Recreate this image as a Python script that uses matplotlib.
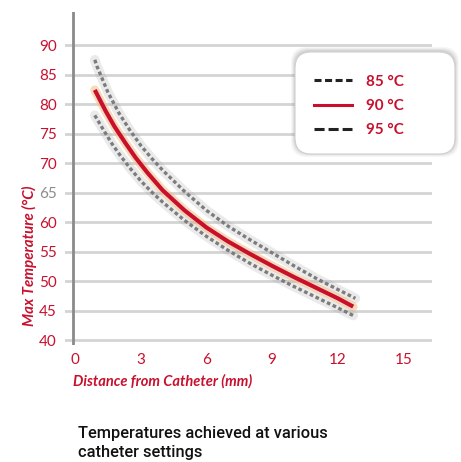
import matplotlib
matplotlib.use('Agg')
import matplotlib.pyplot as plt
from matplotlib.lines import Line2D
from matplotlib.patches import FancyBboxPatch

# colour definitions
red = '#c8102e'
grey_tick = '#8c8c8c'
grid_grey = '#d4d4d4'

# data
dist_90 = [0.9, 1.4, 1.8, 2.3, 2.75, 3.3, 4, 5, 6, 7, 8, 9, 10, 11, 12, 12.7]
temp_90 = [82.4, 78.8, 76.2, 73.4, 71.0, 68.4, 65.4, 62.0, 59.1, 56.7, 54.6, 52.6, 50.7, 48.9, 47.1, 45.7]

dist_95 = [0.9, 1.0, 1.5, 2, 2.5, 3, 3.5, 4, 5, 6, 7, 8, 9, 10, 11, 12, 12.8]
temp_95 = [87.5, 86.4, 82.0, 78.5, 75.6, 73.0, 70.8, 68.8, 65.2, 62.0, 59.3, 57.0, 54.8, 52.6, 50.5, 48.6, 47.1]

dist_85 = [0.9, 1.3, 1.7, 2.1, 2.5, 3, 3.5, 4, 5, 6, 7, 8, 9, 10, 11, 12, 12.7]
temp_85 = [78.1, 75.6, 73.2, 71.1, 69.2, 67.0, 65.1, 63.4, 60.3, 57.6, 55.2, 53.0, 51.0, 49.1, 47.3, 45.5, 44.2]

x_ticks = [0, 3, 6, 9, 12, 15]
y_ticks = [40, 45, 50, 55, 60, 65, 70, 75, 80, 85, 90]
legend_labels = ['85 °C', '90 °C', '95 °C']

W, H = 461, 462
fig = plt.figure(figsize=(W / 100, H / 100), dpi=100)
ax = fig.add_axes([65 / W, 1 - 345 / H, (432 - 65) / W, (345 - 12) / H])
ax.set_xlim(-0.46, 16.3)
ax.set_ylim(39.2, 95.6)

for s in ax.spines.values():
    s.set_visible(False)

# grid lines
for y in y_ticks:
    ax.axhline(y, color=grid_grey, lw=2, zorder=0)
ax.axvline(-0.1, color='#8a8a8a', lw=2, zorder=1)

# grey curves with soft halo
for d, t in [(dist_95, temp_95), (dist_85, temp_85)]:
    ax.plot(d, t, color='#a0a0a0', lw=7, alpha=0.22, solid_capstyle='round', zorder=2)
    ax.plot(d, t, color='#7c7c7c', lw=2.4, dashes=(1.1, 0.8), zorder=3)

# red curve with orange halo
ax.plot(dist_90, temp_90, color='#f3b877', lw=6.5, alpha=0.5, solid_capstyle='round', zorder=4)
ax.plot(dist_90, temp_90, color=red, lw=3, solid_capstyle='butt', zorder=5)

ax.set_xticks(x_ticks)
ax.set_yticks(y_ticks)
ax.tick_params(length=0, labelsize=11, labelcolor=red)
ax.tick_params(axis='y', pad=6)
ax.tick_params(axis='x', pad=6)
for lab in ax.get_xticklabels() + ax.get_yticklabels():
    lab.set_fontfamily('Lato')
ax.get_yticklabels()[y_ticks.index(65)].set_color(grey_tick)

fig.text(73 / W, 1 - 381 / H, 'Distance from Catheter (mm)', color=red, fontsize=10.5,
         fontstyle='italic', fontweight='bold', family='Lato', ha='left', va='center')
fig.text(29 / W, 1 - 256 / H, 'Max Temperature (°C)', color=red, fontsize=10.8,
         fontstyle='italic', fontweight='bold', family='Lato', rotation=90,
         ha='center', va='center')

# legend box with soft shadow
bx, by, bw, bh = 295, 52, 160, 102
for i, a in enumerate([0.05, 0.06, 0.08, 0.1]):
    g = 4 - i
    sh = FancyBboxPatch(((bx - g) / W, 1 - (by + bh + g - 1) / H),
                        (bw + 2 * g) / W, (bh + 2 * g) / H,
                        boxstyle='round,pad=0,rounding_size=0.035',
                        transform=fig.transFigure, facecolor='#606060',
                        edgecolor='none', alpha=a, zorder=6)
    fig.patches.append(sh)
box = FancyBboxPatch((bx / W, 1 - (by + bh) / H), bw / W, bh / H,
                     boxstyle='round,pad=0,rounding_size=0.035',
                     transform=fig.transFigure, facecolor='white',
                     edgecolor='#d0d0d0', lw=0.8, zorder=7)
fig.patches.append(box)

handles = [Line2D([], [], color='#222222', lw=2.2, dashes=(2.3, 1.15)),
           Line2D([], [], color=red, lw=2.2),
           Line2D([], [], color='#222222', lw=2.2, dashes=(3.3, 1.3))]
leg = fig.legend(handles, legend_labels, loc='center left',
                 bbox_to_anchor=(300 / W, 1 - (by + bh / 2 + 3) / H),
                 frameon=False, handlelength=2.5, handletextpad=0.9,
                 labelspacing=0.68, prop={'family': 'Lato', 'weight': 'bold', 'size': 11})
for t in leg.get_texts():
    t.set_color(red)
leg.set_zorder(8)

fig.text(78 / W, 1 - 443 / H, 'Temperatures achieved at various\ncatheter settings',
         color='#111111', fontsize=11.8, family='Roboto', fontweight='medium',
         ha='left', va='center', linespacing=1.38)

fig.savefig('out.png', dpi=100)
